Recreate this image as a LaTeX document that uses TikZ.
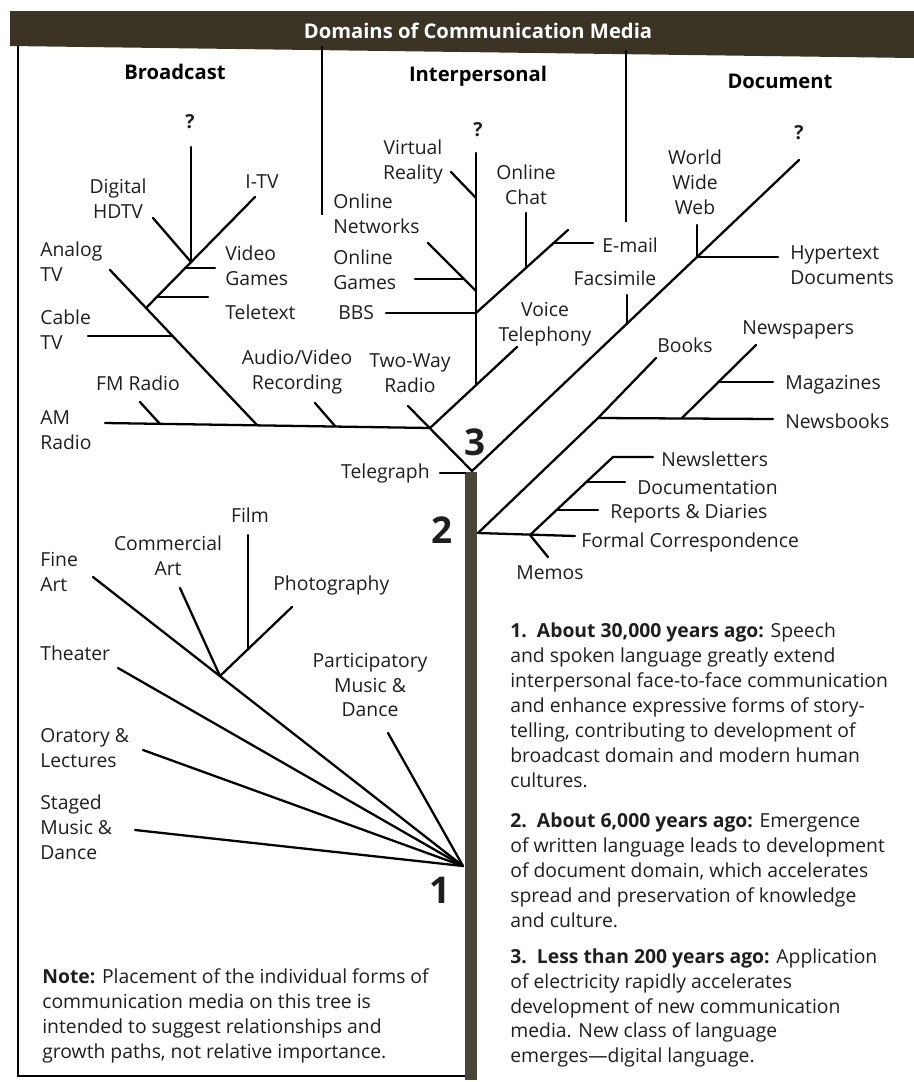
\documentclass[tikz,border=0pt]{standalone}
\usepackage{fontspec}
\setmainfont{Open Sans}
\usepackage{xcolor}
\definecolor{barbrown}{HTML}{3B3425}
\definecolor{trunkbrown}{HTML}{4A4636}
\definecolor{inkgray}{HTML}{1E1E1E}
\tikzstyle{branch} = [line width=1.3pt, line cap=round]
\tikzstyle{frame} = [line width=1.2pt]
\tikzstyle{lbl} = [align=center, inner sep=0pt, font=\fontsize{11}{14.2}\selectfont, text=inkgray]
\tikzstyle{llbl} = [lbl, anchor=west, align=left]
\tikzstyle{rlbl} = [lbl, anchor=east, align=right]
\tikzstyle{head} = [inner sep=0pt, font=\bfseries\fontsize{11.5}{14}\selectfont]
\tikzstyle{era} = [inner sep=0pt, font=\bfseries\fontsize{21}{21}\selectfont, text=inkgray]
\tikzstyle{para} = [anchor=west, align=left, inner sep=0pt, font=\fontsize{11}{14.2}\selectfont, text=inkgray]

\begin{document}
\begin{tikzpicture}[x=0.2mm, y=-0.2mm]
        \useasboundingbox (0,0) rectangle (914,1082);

        % Frame and headings
        \fill[barbrown] (10,11) -- (914,11) -- (914,58) -- (10,46) -- cycle;
        \node[head, text=white] (title) at (478,31) {Domains of Communication Media};
        \draw[frame] (18,46) -- (18,1076) -- (466,1076);
        \draw[line width=0.9pt] (322,46) -- (322,215);
        \draw[line width=0.9pt] (626,50) -- (626,222);
        \node[head] (broadcast) at (175,72) {Broadcast};
        \node[head] (interpersonal) at (478,76) {Interpersonal};
        \node[head] (document) at (780,81) {Document};

        % Trunk
        \fill[trunkbrown] (465,472) rectangle (477,1080);

        % Broadcast points
        \coordinate (twoway) at (408,406);
        \coordinate (jthree) at (430,428);
        \coordinate (top) at (472,471);
        \coordinate (am) at (105,423);
        \coordinate (analog) at (110,270);
        \coordinate (janalog) at (257,425);
        \coordinate (fm) at (140,402);
        \coordinate (jfm) at (160,424);
        \coordinate (av) at (315,403);
        \coordinate (jav) at (335,426);
        \coordinate (cable) at (88,336);
        \coordinate (jcable) at (173,336);
        \coordinate (jtv) at (146,308);
        \coordinate (itv) at (255,197);
        \coordinate (jteletext) at (157,297);
        \coordinate (teletext) at (208,297);
        \coordinate (jvideo) at (185,268);
        \coordinate (video) at (215,268);
        \coordinate (jdigital) at (191,262);
        \coordinate (qbroad) at (191,147);
        \coordinate (hdtv) at (153,218);

        \draw[branch] (am) -- (jthree);
        \draw[branch] (twoway) -- (top);
        \draw[branch] (analog) -- (janalog);
        \draw[branch] (fm) -- (jfm);
        \draw[branch] (av) -- (jav);
        \draw[branch] (cable) -- (jcable);
        \draw[branch] (jtv) -- (itv);
        \draw[branch] (jteletext) -- (teletext);
        \draw[branch] (jvideo) -- (video);
        \draw[branch] (qbroad) -- (jdigital);
        \draw[branch] (hdtv) -- (jdigital);

        \node[lbl] (qbroadtxt) at (190,122) {\bfseries ?};
        \node[lbl] (hdtvtxt) at (118,199) {Digital\\HDTV};
        \node[lbl] (itvtxt) at (262,182) {I-TV};
        \node[llbl] (videotxt) at (225,266) {Video\\Games};
        \node[llbl] (teletexttxt) at (225,312) {Teletext};
        \node[llbl] (analogtxt) at (40,262) {Analog\\TV};
        \node[llbl] (cabletxt) at (40,330) {Cable\\TV};
        \node[lbl] (fmtxt) at (138,383) {FM Radio};
        \node[llbl] (amtxt) at (40,430) {AM\\Radio};
        \node[lbl] (avtxt) at (297,372) {Audio/Video\\Recording};
        \node[lbl] (twowaytxt) at (410,373) {Two-Way\\Radio};

        % Interpersonal points
        \coordinate (voice) at (517,347);
        \coordinate (ji) at (476,385);
        \coordinate (qinter) at (476,153);
        \coordinate (vr) at (451,172);
        \coordinate (jvr) at (476,198);
        \coordinate (onet) at (428,243);
        \coordinate (jonet) at (476,291);
        \coordinate (ogames) at (415,279);
        \coordinate (jogames) at (464,279);
        \coordinate (bbs) at (386,313);
        \coordinate (jbbs) at (476,313);
        \coordinate (chatend) at (568,230);
        \coordinate (chat) at (526,213);
        \coordinate (jchat) at (526,268);
        \coordinate (jemail) at (554,243);
        \coordinate (email) at (593,243);

        \draw[branch] (jthree) -- (voice);
        \draw[branch] (ji) -- (qinter);
        \draw[branch] (vr) -- (jvr);
        \draw[branch] (onet) -- (jonet);
        \draw[branch] (ogames) -- (jogames);
        \draw[branch] (bbs) -- (jbbs);
        \draw[branch] (jbbs) -- (chatend);
        \draw[branch] (chat) -- (jchat);
        \draw[branch] (jemail) -- (email);

        \node[lbl] (qintertxt) at (478,130) {\bfseries ?};
        \node[lbl] (vrtxt) at (413,162) {Virtual\\Reality};
        \node[llbl] (onettxt) at (333,214) {Online\\Networks};
        \node[llbl] (ogamestxt) at (333,270) {Online\\Games};
        \node[llbl] (bbstxt) at (338,313) {BBS};
        \node[lbl] (chattxt) at (526,185) {Online\\Chat};
        \node[llbl] (emailtxt) at (602,245) {E-mail};
        \node[lbl] (voicetxt) at (545,324) {Voice\\Telephony};

        % Document points
        \coordinate (qdocend) at (799,160);
        \coordinate (jfax) at (627,324);
        \coordinate (fax) at (627,295);
        \coordinate (jwww) at (697,257);
        \coordinate (www) at (697,225);
        \coordinate (hyper) at (778,257);

        \draw[branch] (top) -- (qdocend);
        \draw[branch] (fax) -- (jfax);
        \draw[branch] (www) -- (jwww);
        \draw[branch] (jwww) -- (hyper);

        \node[lbl] (qdoctxt) at (799,133) {\bfseries ?};
        \node[lbl] (wwwtxt) at (695,182) {World\\Wide\\Web};
        \node[llbl] (hypertxt) at (790,265) {Hypertext\\Documents};
        \node[lbl] (faxtxt) at (615,278) {Facsimile};

        % Print points
        \coordinate (jtwo) at (478,533);
        \coordinate (jnews) at (598,418);
        \coordinate (books) at (656,358);
        \coordinate (newsbooks) at (773,419);
        \coordinate (jpapers) at (682,418);
        \coordinate (papers) at (756,345);
        \coordinate (jmag) at (718,382);
        \coordinate (mag) at (773,382);
        \coordinate (formal) at (575,536);
        \coordinate (jmemo) at (530,535);
        \coordinate (memos) at (548,557);
        \coordinate (letterend) at (613,457);
        \coordinate (letters) at (653,457);
        \coordinate (jdoc) at (586,482);
        \coordinate (docu) at (625,482);
        \coordinate (jrep) at (557,510);
        \coordinate (reports) at (598,510);

        \draw[branch] (jtwo) -- (jnews) -- (books);
        \draw[branch] (jnews) -- (newsbooks);
        \draw[branch] (jpapers) -- (papers);
        \draw[branch] (jmag) -- (mag);
        \draw[branch] (jtwo) -- (formal);
        \draw[branch] (jmemo) -- (memos);
        \draw[branch] (jmemo) -- (letterend) -- (letters);
        \draw[branch] (jdoc) -- (docu);
        \draw[branch] (jrep) -- (reports);

        \node[llbl] (bookstxt) at (657,345) {Books};
        \node[llbl] (paperstxt) at (742,330) {Newspapers};
        \node[llbl] (magtxt) at (785,385) {Magazines};
        \node[llbl] (newsbookstxt) at (785,421) {Newsbooks};
        \node[llbl] (letterstxt) at (661,459) {Newsletters};
        \node[llbl] (docutxt) at (637,487) {Documentation};
        \node[llbl] (reportstxt) at (610,514) {Reports \& Diaries};
        \node[llbl] (formaltxt) at (581,542) {Formal Correspondence};
        \node[llbl] (memostxt) at (516,573) {Memos};

        % Telegraph
        \coordinate (tele) at (440,473);
        \coordinate (jtele) at (465,473);
        \draw[branch] (tele) -- (jtele);
        \node[rlbl] (teletxt) at (430,473) {Telegraph};

        % Speech era points
        \coordinate (root) at (463,866);
        \coordinate (fineart) at (93,577);
        \coordinate (jart) at (220,676);
        \coordinate (comart) at (180,588);
        \coordinate (photo) at (292,607);
        \coordinate (film) at (248,535);
        \coordinate (jfilm) at (248,649);
        \coordinate (theater) at (118,668);
        \coordinate (oratory) at (143,750);
        \coordinate (staged) at (135,830);
        \coordinate (partic) at (388,733);

        \draw[branch] (fineart) -- (root);
        \draw[branch] (comart) -- (jart);
        \draw[branch] (jart) -- (photo);
        \draw[branch] (film) -- (jfilm);
        \draw[branch] (theater) -- (root);
        \draw[branch] (oratory) -- (root);
        \draw[branch] (staged) -- (root);
        \draw[branch] (partic) -- (root);

        \node[llbl] (finearttxt) at (40,572) {Fine\\Art};
        \node[lbl] (comarttxt) at (168,556) {Commercial\\Art};
        \node[lbl] (filmtxt) at (250,515) {Film};
        \node[llbl] (phototxt) at (273,585) {Photography};
        \node[llbl] (theatertxt) at (40,653) {Theater};
        \node[llbl] (oratorytxt) at (40,748) {Oratory \&\\Lectures};
        \node[llbl] (stagedtxt) at (40,827) {Staged\\Music \&\\Dance};
        \node[lbl] (partictxt) at (370,685) {Participatory\\Music \&\\Dance};

        % Era numbers
        \node[era] (three) at (475,442) {3};
        \node[era] (two) at (442,530) {2};
        \node[era] (one) at (440,890) {1};

        % Notes
        \node[para] (era1txt) at (510,705) {\textbf{1.\ \ About 30,000 years ago:} Speech\\
            and spoken language greatly extend\\
            interpersonal face-to-face communication\\
            and enhance expressive forms of story-\\
            telling, contributing to development of\\
            broadcast domain and modern human\\
            cultures.};
        \node[para] (era2txt) at (510,870) {\textbf{2.\ \ About 6,000 years ago:} Emergence\\
            of written language leads to development\\
            of document domain, which accelerates\\
            spread and preservation of knowledge\\
            and culture.};
        \node[para] (era3txt) at (510,1008) {\textbf{3.\ \ Less than 200 years ago:} Application\\
            of electricity rapidly accelerates\\
            development of new communication\\
            media. New class of language\\
            emerges---digital language.};
        \node[para] (notetxt) at (42,1016) {\textbf{Note:} Placement of the individual forms of\\
            communication media on this tree is\\
            intended to suggest relationships and\\
            growth paths, not relative importance.};

    \end{tikzpicture}
\end{document}
